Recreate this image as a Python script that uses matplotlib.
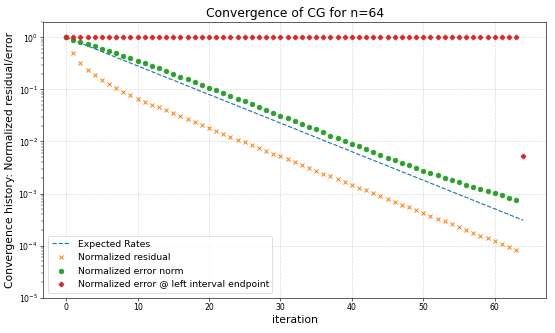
import numpy as np
import matplotlib
matplotlib.use("Agg")
import matplotlib.pyplot as plt

n = 64
iterations = list(range(64))

expected_iters = [0, 64]
expected_rates = [1.0, 3.07e-4]

residual = [1.0, 0.492, 0.326, 0.239, 0.186, 0.151, 0.125, 0.1045, 0.0902, 0.0778,
            0.0662, 0.0579, 0.0507, 0.0451, 0.0395, 0.0346, 0.0303, 0.0265, 0.0232, 0.0203,
            0.0180, 0.0160, 0.0140, 0.0123, 0.0109, 0.00957, 0.00850, 0.00744, 0.00662, 0.00579,
            0.00515, 0.00451, 0.00400, 0.00356, 0.00312, 0.00277, 0.00242, 0.00215, 0.00189, 0.00168,
            0.00149, 0.00130, 0.00116, 0.00103, 0.000902, 0.000790, 0.000702, 0.000614, 0.000546, 0.000478,
            0.000425, 0.000372, 0.000331, 0.000294, 0.000257, 0.000225, 0.000200, 0.000178, 0.000156, 0.000138,
            0.000123, 0.000108, 0.0000957, 0.0000838]

error_norm = [1.0, 0.902, 0.813, 0.744, 0.681, 0.605, 0.546, 0.492, 0.444, 0.400,
              0.356, 0.321, 0.285, 0.253, 0.225, 0.200, 0.175, 0.156, 0.138, 0.123,
              0.108, 0.0957, 0.0838, 0.0744, 0.0662, 0.0588, 0.0515, 0.0457, 0.0400, 0.0356,
              0.0312, 0.0277, 0.0246, 0.0219, 0.0191, 0.0170, 0.0149, 0.0130, 0.0116, 0.0103,
              0.00902, 0.00801, 0.00712, 0.00624, 0.00554, 0.00492, 0.00438, 0.00389, 0.00346, 0.00307,
              0.00277, 0.00250, 0.00225, 0.00200, 0.00180, 0.00165, 0.00149, 0.00136, 0.00123, 0.00113,
              0.00103, 0.000929, 0.000838, 0.000744]

left_iters = list(range(65))
left_error = [1.0] * 64 + [0.0052]

fig, ax = plt.subplots(figsize=(10, 6), dpi=55.5)
fig.subplots_adjust(left=0.078, right=0.984, bottom=0.106, top=0.935)

ax.semilogy(expected_iters, expected_rates, '--', color='C0', label='Expected Rates')
ax.semilogy(iterations, residual, 'x', color='C1', markersize=6, markeredgewidth=1.3, label='Normalized residual')
ax.semilogy(iterations, error_norm, 'o', color='C2', markersize=6, label='Normalized error norm')
ax.semilogy(left_iters, left_error, 'P', color='C3', markersize=6, label='Normalized error @ left interval endpoint')

ax.set_ylim(1e-5, 2)
ax.grid(True, which='major', linestyle='--', alpha=0.5)
ax.set_title(f'Convergence of CG for n={n}', fontsize=16)
ax.set_xlabel('iteration', fontsize=14)
ax.set_ylabel('Convergence history: Normalized residual/error', fontsize=14)
ax.tick_params(labelsize=10)
ax.legend(loc='lower left', fontsize=12)

fig.savefig('out.png', dpi=55.5)
